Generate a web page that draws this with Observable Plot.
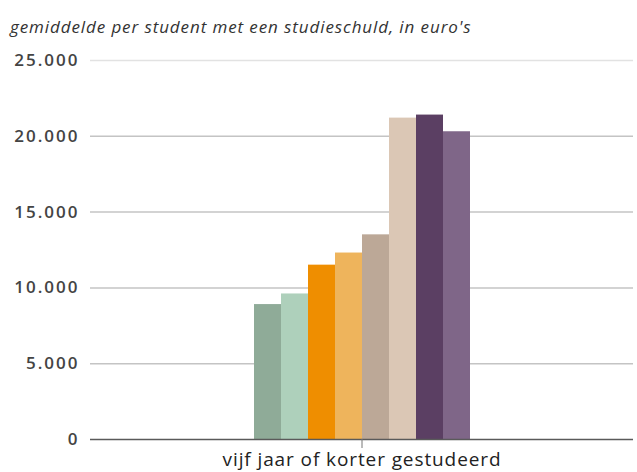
<!DOCTYPE html>
<html>
<head>
<meta charset="utf-8">
<script src="https://cdn.jsdelivr.net/npm/d3@7"></script>
<script src="https://cdn.jsdelivr.net/npm/@observablehq/plot@0.6"></script>
<style>
  body { margin: 0; background: #fff; }
  #wrap { position: relative; width: 637px; height: 472px; }
  #title { position: absolute; left: 10px; top: 15px; font-family: "Open Sans", sans-serif; font-style: italic; font-size: 17px; color: #333; white-space: nowrap; letter-spacing: 0.9px; }
  #chart { position: absolute; left: 0; top: 45px; }
  #chart svg g[aria-label="y-axis tick label"] text { letter-spacing: 2px; }
  #chart svg g[aria-label="fx-axis tick label"] text { letter-spacing: 0.9px; }
</style>
</head>
<body>
<div id="wrap">
  <div id="title">gemiddelde per student met een studieschuld, in euro's</div>
  <div id="chart"></div>
</div>
<script>
const category = "vijf jaar of korter gestudeerd";
const series = ["reeks 1", "reeks 2", "reeks 3", "reeks 4", "reeks 5", "reeks 6", "reeks 7", "reeks 8"];
const values = [8900, 9600, 11500, 12300, 13500, 21200, 21400, 20300];
const colors = ["#8fab98", "#aed0bb", "#ef8e00", "#eeb45c", "#bca897", "#dbc7b5", "#5b3f63", "#7f6688"];
const yTicks = [0, 5000, 10000, 15000, 20000, 25000];

const data = series.map((s, i) => ({group: category, series: s, value: values[i]}));
const nl = d3.formatLocale({decimal: ",", thousands: ".", grouping: [3], currency: ["€", ""]});
const fmt = nl.format(",d");

const chart = Plot.plot({
  width: 637,
  height: 427,
  marginTop: 15,
  marginBottom: 33,
  marginLeft: 90,
  marginRight: 4,
  style: {fontFamily: "Open Sans, sans-serif", background: "#fff"},
  fx: {domain: [category], padding: 0, label: null},
  x: {domain: series, paddingInner: 0, paddingOuter: 5.96, axis: null},
  y: {domain: [0, 25000], label: null},
  color: {domain: series, range: colors},
  marks: [
    Plot.gridY(yTicks.filter(t => t > 0 && t < 25000), {stroke: "#c4c4c4", strokeOpacity: 1, strokeWidth: 1.5}),
    Plot.gridY([25000], {stroke: "#e2e2e2", strokeOpacity: 1, strokeWidth: 1.5}),
    Plot.axisY(yTicks, {tickSize: 0, tickPadding: 11, tickFormat: fmt, fontSize: 17, fill: "#444", fontWeight: 600, label: null}),
    Plot.barY(data, {fx: "group", x: "series", y: "value", fill: "series"}),
    Plot.ruleY([0], {stroke: "#5a5a5a", strokeWidth: 1.5}),
    Plot.axisFx({anchor: "bottom", tickSize: 9, tickPadding: 4, fontSize: 19, fill: "#222", stroke: "#777", label: null})
  ]
});
document.getElementById("chart").appendChild(chart);
</script>
</body>
</html>
